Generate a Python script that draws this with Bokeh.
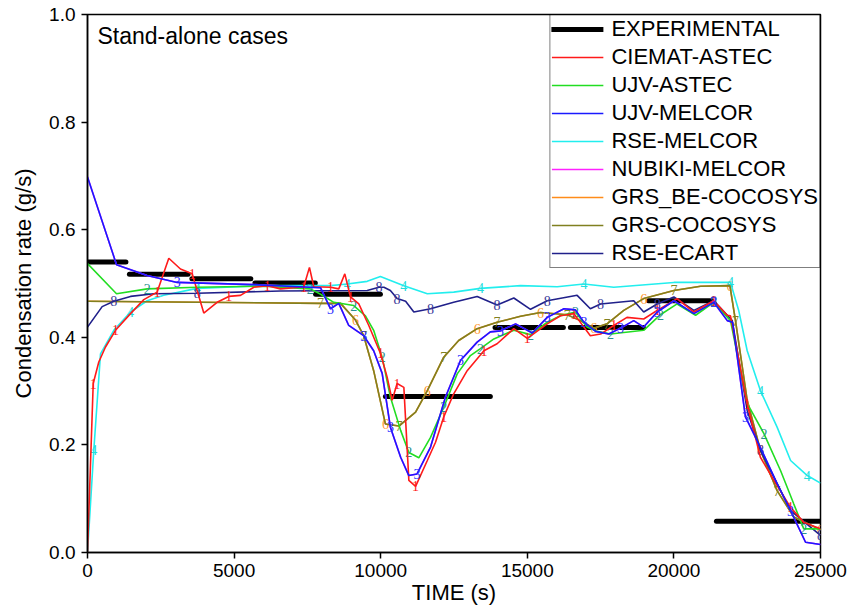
from bokeh.plotting import figure
from bokeh.models import Legend, LegendItem, Label, Range1d, ColumnDataSource, CustomJSTickFormatter
from bokeh.core.properties import value
from bokeh.embed import file_html
from bokeh.resources import INLINE

# ---------------- data ----------------
exp_x0 = [0, 1430, 3560, 5710, 7780, 10160, 13900, 16470, 19130, 21450]
exp_x1 = [1310, 3430, 5570, 7770, 9990, 13740, 16230, 18960, 21280, 25000]
exp_y = [0.540, 0.517, 0.509, 0.501, 0.480, 0.290, 0.418, 0.418, 0.468, 0.058]

ciemat_x = [0, 195, 385, 614, 955, 1467, 1920, 2375, 2773, 3170, 3570, 3966, 4420, 4820, 5218, 5672,
            6130, 6580, 7036, 7377, 7570, 7718, 8288, 8570, 8776, 8970, 9253, 9594, 9993, 10220, 10390,
            10560, 10790, 10960, 11190, 11590, 11870, 12150, 12490, 12950, 13520, 13970, 14540, 15000,
            15680, 16130, 16590, 17150, 17500, 17950, 18400, 18970, 19430, 20110, 20680, 21360, 21820,
            21930, 22500, 22950, 23410, 23980, 24430, 25000]
ciemat_y = [0.0, 0.314, 0.354, 0.382, 0.413, 0.444, 0.470, 0.484, 0.547, 0.527, 0.518, 0.445, 0.465, 0.476,
            0.478, 0.493, 0.496, 0.490, 0.492, 0.494, 0.530, 0.494, 0.493, 0.490, 0.518, 0.475, 0.462,
            0.422, 0.370, 0.326, 0.283, 0.314, 0.307, 0.134, 0.123, 0.171, 0.205, 0.252, 0.295, 0.338,
            0.375, 0.388, 0.416, 0.398, 0.425, 0.440, 0.444, 0.403, 0.406, 0.422, 0.437, 0.434, 0.450,
            0.472, 0.447, 0.468, 0.441, 0.440, 0.276, 0.177, 0.134, 0.084, 0.056, 0.044]

ujv_astec_x = [0, 990, 2035, 3740, 6010, 7600, 7950, 8400, 9080, 9480, 9760, 10050, 10330, 10680, 10960,
               11300, 11700, 12150, 12610, 13060, 13400, 13860, 14540, 15110, 15680, 16130, 16640, 17040,
               17380, 17840, 18290, 18970, 19540, 20110, 20740, 21360, 21930, 22500, 23070, 23640, 24090,
               24430, 25000]
ujv_astec_y = [0.537, 0.481, 0.490, 0.493, 0.495, 0.490, 0.480, 0.465, 0.459, 0.440, 0.413, 0.363, 0.289,
               0.227, 0.186, 0.176, 0.214, 0.270, 0.332, 0.366, 0.379, 0.397, 0.413, 0.405, 0.428, 0.440,
               0.447, 0.419, 0.411, 0.406, 0.409, 0.413, 0.442, 0.462, 0.441, 0.465, 0.431, 0.277, 0.221,
               0.152, 0.090, 0.044, 0.044]

ujv_melcor_x = [0, 990, 2030, 3060, 5660, 7950, 8290, 8570, 8910, 9420, 9760, 10050, 10330, 10680, 10960,
                11240, 11700, 12210, 12720, 13290, 13740, 14090, 14600, 15170, 15680, 16250, 16640, 16930,
                17330, 17780, 18180, 18630, 18970, 19430, 20000, 20680, 21360, 21820, 22000, 22440, 22840,
                23520, 23980, 24490, 25000]
ujv_melcor_y = [0.698, 0.535, 0.515, 0.502, 0.498, 0.492, 0.453, 0.463, 0.422, 0.403, 0.375, 0.333, 0.233,
                0.177, 0.143, 0.146, 0.196, 0.289, 0.357, 0.391, 0.410, 0.412, 0.425, 0.408, 0.437, 0.453,
                0.451, 0.428, 0.411, 0.406, 0.417, 0.431, 0.419, 0.447, 0.468, 0.444, 0.465, 0.431, 0.428,
                0.252, 0.208, 0.128, 0.078, 0.019, 0.015]

rse_melcor_x = [0, 215, 443, 897, 1467, 2035, 2600, 3740, 6010, 8290, 8860, 9540, 9990, 10790, 11590,
                12490, 13400, 14770, 16020, 16930, 17950, 20000, 21930, 22210, 22500, 22950, 23520, 23980,
                24550, 25000]
rse_melcor_y = [0.0, 0.190, 0.369, 0.413, 0.447, 0.468, 0.478, 0.491, 0.496, 0.496, 0.499, 0.504, 0.513,
                0.496, 0.481, 0.484, 0.491, 0.496, 0.494, 0.499, 0.493, 0.502, 0.502, 0.450, 0.375, 0.301,
                0.233, 0.171, 0.143, 0.129]

nubiki_melcor_x = ujv_melcor_x
nubiki_melcor_y = ujv_melcor_y

grs_cocosys_x = [0, 7950, 8630, 9140, 9420, 9760, 10160, 10620, 11190, 11590, 12150, 12660, 13290, 13970,
                 14770, 15450, 16360, 16810, 17270, 17720, 18290, 18970, 20000, 20910, 21910, 22100, 22500,
                 22950, 23520, 24090, 25000]
grs_cocosys_y = [0.467, 0.463, 0.463, 0.432, 0.403, 0.338, 0.239, 0.235, 0.261, 0.301, 0.363, 0.394, 0.416,
                 0.428, 0.439, 0.446, 0.442, 0.431, 0.417, 0.425, 0.450, 0.472, 0.487, 0.495, 0.496, 0.431,
                 0.283, 0.190, 0.115, 0.066, 0.042]

grs_be_cocosys_x = grs_cocosys_x
grs_be_cocosys_y = grs_cocosys_y

rse_ecart_x = [0, 500, 897, 1467, 2260, 3740, 6580, 9540, 9940, 10110, 10330, 10560, 10850, 11130, 11700,
               12490, 13290, 13970, 14540, 15110, 15680, 16700, 17150, 17500, 18630, 18970, 19430, 20000,
               20680, 21360, 21990, 22500, 22950, 23520, 23980, 25000]
rse_ecart_y = [0.419, 0.457, 0.467, 0.476, 0.481, 0.482, 0.486, 0.487, 0.493, 0.493, 0.487, 0.472, 0.467,
               0.447, 0.453, 0.465, 0.476, 0.460, 0.473, 0.452, 0.468, 0.478, 0.453, 0.462, 0.468, 0.447,
               0.462, 0.475, 0.450, 0.468, 0.431, 0.264, 0.190, 0.128, 0.078, 0.032]

series_names = ["CIEMAT-ASTEC", "UJV-ASTEC", "UJV-MELCOR", "RSE-MELCOR", "NUBIKI-MELCOR",
                "GRS_BE-COCOSYS", "GRS-COCOSYS", "RSE-ECART"]
series_data = [(ciemat_x, ciemat_y), (ujv_astec_x, ujv_astec_y), (ujv_melcor_x, ujv_melcor_y),
               (rse_melcor_x, rse_melcor_y), (nubiki_melcor_x, nubiki_melcor_y),
               (grs_be_cocosys_x, grs_be_cocosys_y), (grs_cocosys_x, grs_cocosys_y),
               (rse_ecart_x, rse_ecart_y)]
line_colors = ["#ff1a1a", "#22dd22", "#1a1aff", "#22eeee", "#ff22ff", "#ff8c1a", "#808020", "#20208a"]
mark_colors = ["#ff1a1a", "#2a9090", "#3030ff", "#22dddd", "#ff22ff", "#ff9933", "#808020", "#3a3a9a"]
x_ticks = [0, 5000, 10000, 15000, 20000, 25000]
y_ticks = [0.0, 0.2, 0.4, 0.6, 0.8, 1.0]

# ---------------- figure ----------------
FONT = "Liberation Sans"
p = figure(width=848, height=616, output_backend="svg", toolbar_location=None,
           x_range=Range1d(0, 25000), y_range=Range1d(0, 1.0),
           min_border_left=87, min_border_right=28, min_border_top=14, min_border_bottom=64)
p.xgrid.visible = False
p.ygrid.visible = False
p.outline_line_color = "black"
p.outline_line_width = 1.5
p.background_fill_color = "white"
p.border_fill_color = "white"

for ax in (p.xaxis[0], p.yaxis[0]):
    ax.axis_line_width = 1.5
    ax.major_tick_line_width = 1.5
    ax.minor_tick_line_width = 1.5
    ax.major_tick_out = 6
    ax.major_tick_in = 0
    ax.minor_tick_out = 4
    ax.minor_tick_in = 0
    ax.major_label_text_font = FONT
    ax.major_label_text_font_size = "19px"
    ax.major_label_text_color = "black"
    ax.axis_label_text_font = FONT
    ax.axis_label_text_font_size = "22px"
    ax.axis_label_text_font_style = "normal"
    ax.axis_label_text_color = "black"

p.xaxis.ticker = x_ticks
p.yaxis.ticker = y_ticks
p.xaxis[0].ticker.num_minor_ticks = 2
p.yaxis[0].ticker.num_minor_ticks = 2
p.xaxis.axis_label = "TIME (s)"
p.yaxis.axis_label = "Condensation rate (g/s)"
p.xaxis.axis_label_standoff = 0
p.yaxis.axis_label_standoff = 10
p.xaxis.major_label_standoff = 5
p.yaxis.major_label_standoff = 6
p.yaxis.formatter = CustomJSTickFormatter(code="return tick.toFixed(1);")

items = []
exp_src = ColumnDataSource(dict(x0=exp_x0, x1=exp_x1, y0=exp_y, y1=exp_y))
exp_r = p.segment(x0="x0", y0="y0", x1="x1", y1="y1", source=exp_src, line_color="black",
                  line_width=5, line_cap="round")
items.append(LegendItem(label="EXPERIMENTAL", renderers=[exp_r]))

draw_order = [4, 5, 3, 6, 7, 1, 0, 2]
renderers = {}
for i in draw_order:
    xs, ys = series_data[i]
    r = p.line(xs, ys, line_color=line_colors[i], line_width=1.6)
    renderers[i] = r
    if i in (4,):
        continue
    start = 1 + (i % 3)
    mx = xs[start::3]
    my = ys[start::3]
    p.text(mx, my, text=[str(i + 1)] * len(mx), text_color=mark_colors[i],
           text_font=value("Liberation Serif"), text_font_size="14px",
           text_align="center", text_baseline="middle")

for i, name in enumerate(series_names):
    items.append(LegendItem(label=name, renderers=[renderers[i]]))

legend = Legend(items=items, location="top_right")
legend.label_text_font = FONT
legend.label_text_font_size = "22px"
legend.label_text_color = "black"
legend.glyph_width = 52
legend.glyph_height = 24
legend.label_height = 24
legend.spacing = 2
legend.label_standoff = 8
legend.padding = 1
legend.margin = 0
legend.border_line_color = "black"
legend.border_line_width = 1
legend.background_fill_alpha = 0.0
p.add_layout(legend)

p.add_layout(Label(x=340, y=0.985, text="Stand-alone cases", text_font=FONT, text_color="black",
                   text_font_size="23px", text_baseline="top", text_align="left"))

open("out.html", "w").write(file_html(p, INLINE))
